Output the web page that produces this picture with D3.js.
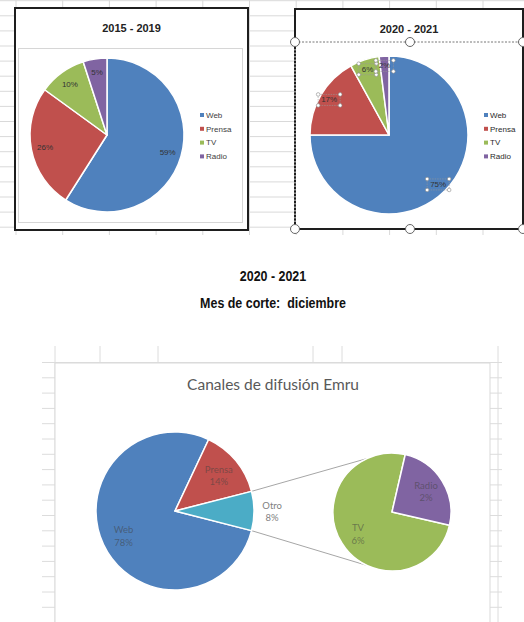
<!DOCTYPE html>
<html>
<head>
<meta charset="utf-8">
<script src="https://cdn.jsdelivr.net/npm/d3@7"></script>
<style>
  body { margin: 0; background: #fff; }
  svg { display: block; }
</style>
</head>
<body>
<svg id="chart" width="524" height="622"></svg>
<script>
// Channel shares (percent)
const categories = ["Web", "Prensa", "TV", "Radio"];
const values2015 = [59, 26, 10, 5];
const values2020 = [75, 17, 6, 2];

// Pie-of-pie: main pie with "Otro" split into the secondary pie
const mainCategories = ["Web", "Prensa", "Otro"];
const mainValues = [78, 14, 8];
const otherCategories = ["TV", "Radio"];
const otherValues = [6, 2];

const titles = ["2015 - 2019", "2020 - 2021"];
const headerLines = ["2020 - 2021", "Mes de corte:  diciembre"];
const mainTitle = "Canales de difusión Emru";

const colors = {
  Web: "#4f81bd", Prensa: "#c0504d", TV: "#9bbb59", Radio: "#8064a2", Otro: "#4bacc6"
};

const svg = d3.select("#chart");
const W = 524, H = 622;
const deg = Math.PI / 180;
const pct = v => `${v}%`;

svg.append("rect").attr("width", W).attr("height", H).attr("fill", "#fff");

// ---------- worksheet grid behind the upper charts ----------
const gridTop = svg.append("g").attr("stroke", "#d9d9d9").attr("stroke-width", 1);
gridTop.selectAll("line.v").data(d3.range(11)).join("line")
  .attr("x1", k => 16 + 46.7 * k).attr("x2", k => 16 + 46.7 * k)
  .attr("y1", 0).attr("y2", 235);
gridTop.selectAll("line.h").data(d3.range(16)).join("line")
  .attr("x1", 0).attr("x2", W)
  .attr("y1", k => 0.7 + 15.1 * k).attr("y2", k => 0.7 + 15.1 * k);

// ---------- worksheet grid behind the lower chart ----------
const gridBot = svg.append("g").attr("stroke", "#dcdcdc").attr("stroke-width", 1);
gridBot.selectAll("line.v").data([55, 100, 158, 313, 342, 498]).join("line")
  .attr("x1", d => d).attr("x2", d => d).attr("y1", 346).attr("y2", H);
gridBot.selectAll("line.h").data(d3.range(18)).join("line")
  .attr("x1", 42).attr("x2", 502)
  .attr("y1", k => 362.5 + 15.3 * k).attr("y2", k => 362.5 + 15.3 * k);

// ---------- small pie chart with legend ----------
function smallChart(opts) {
  const g = svg.append("g");
  // chart area
  g.append("rect").attr("x", opts.frame[0]).attr("y", opts.frame[1])
    .attr("width", opts.frame[2] - opts.frame[0]).attr("height", opts.frame[3] - opts.frame[1])
    .attr("fill", "#fff");
  // plot area
  g.append("rect").attr("x", opts.plot[0]).attr("y", opts.plot[1])
    .attr("width", opts.plot[2] - opts.plot[0]).attr("height", opts.plot[3] - opts.plot[1])
    .attr("fill", "#fff").attr("stroke", opts.plotStroke).attr("stroke-width", 1);

  g.append("text").attr("x", (opts.frame[0] + opts.frame[2]) / 2).attr("y", opts.frame[1] + 24)
    .attr("text-anchor", "middle").attr("font-family", "Liberation Sans, Arial, sans-serif")
    .attr("font-weight", "bold").attr("font-size", 11).attr("fill", "#222")
    .text(opts.title);

  const data = categories.map((c, i) => ({ c, v: opts.values[i] }));
  const pie = d3.pie().sort(null).value(d => d.v);
  const arcs = pie(data);
  const arc = d3.arc().innerRadius(0).outerRadius(opts.r);
  const labelArc = d3.arc().innerRadius(opts.r * opts.labelK).outerRadius(opts.r * opts.labelK);
  const pg = g.append("g").attr("transform", `translate(${opts.cx},${opts.cy})`);
  pg.selectAll("path").data(arcs).join("path")
    .attr("d", arc).attr("fill", d => colors[d.data.c])
    .attr("stroke", "#fff").attr("stroke-width", 1.5).attr("stroke-linejoin", "round");

  const labels = pg.selectAll("text").data(arcs).join("text")
    .attr("transform", d => `translate(${labelArc.centroid(d)})`)
    .attr("text-anchor", "middle").attr("dy", "0.35em")
    .attr("font-family", "Liberation Sans, Arial, sans-serif").attr("font-size", 8)
    .attr("fill", "#333").text(d => pct(d.data.v));

  if (opts.selectedLabels) {
    labels.each(function () {
      const b = this.getBBox();
      const t = d3.select(this).attr("transform");
      const hg = pg.append("g").attr("transform", t);
      const x0 = b.x - 3, y0 = b.y - 1, x1 = b.x + b.width + 3, y1 = b.y + b.height + 1;
      hg.append("rect").attr("x", x0).attr("y", y0).attr("width", x1 - x0).attr("height", y1 - y0)
        .attr("fill", "none").attr("stroke", "#999").attr("stroke-width", 0.6).attr("stroke-dasharray", "1.5,1");
      hg.selectAll("circle").data([[x0, y0], [x1, y0], [x0, y1], [x1, y1]]).join("circle")
        .attr("cx", d => d[0]).attr("cy", d => d[1]).attr("r", 1.8)
        .attr("fill", "#fff").attr("stroke", "#888").attr("stroke-width", 0.6);
    });
  }

  // legend
  const lg = g.append("g").attr("transform", `translate(${opts.legend[0]},${opts.legend[1]})`);
  const items = lg.selectAll("g").data(categories).join("g")
    .attr("transform", (d, i) => `translate(0,${i * 13.8})`);
  items.append("rect").attr("x", 0).attr("y", -2).attr("width", 4).attr("height", 4)
    .attr("fill", d => colors[d]);
  items.append("text").attr("x", 6).attr("dy", "0.35em")
    .attr("font-family", "Liberation Sans, Arial, sans-serif").attr("font-size", 8)
    .attr("fill", opts.legendColor).text(d => d);

  // outer frame
  g.append("rect").attr("x", opts.frame[0]).attr("y", opts.frame[1])
    .attr("width", opts.frame[2] - opts.frame[0]).attr("height", opts.frame[3] - opts.frame[1])
    .attr("fill", "none").attr("stroke", "#1e1e1e").attr("stroke-width", 2);
  return g;
}

smallChart({
  title: titles[0], values: values2015,
  frame: [15, 8, 248, 230], plot: [18.5, 48.5, 242.5, 222.5], plotStroke: "#d6d6d6",
  cx: 107, cy: 135, r: 77, labelK: 0.82, legend: [200, 115], legendColor: "#404040"
});

const c2 = smallChart({
  title: titles[1], values: values2020,
  frame: [295, 9, 523, 229], plot: [295, 42, 523, 229], plotStroke: "none",
  cx: 389, cy: 135, r: 79, labelK: 0.88, legend: [484, 115], legendColor: "#2a2a2a",
  selectedLabels: true
});

// selection marks on the second chart's plot area
c2.append("line").attr("x1", 295).attr("x2", 523).attr("y1", 42).attr("y2", 42)
  .attr("stroke", "#777").attr("stroke-width", 1).attr("stroke-dasharray", "2,1.5");
c2.append("line").attr("x1", 295).attr("x2", 295).attr("y1", 42).attr("y2", 229)
  .attr("stroke", "#fff").attr("stroke-width", 1).attr("stroke-dasharray", "1.5,2");
c2.selectAll("circle.h").data([[295, 42], [410, 42], [523, 42], [295, 229], [410, 229], [523, 229]])
  .join("circle").attr("cx", d => d[0]).attr("cy", d => d[1]).attr("r", 4.5)
  .attr("fill", "#fff").attr("stroke", "#666").attr("stroke-width", 1);

// ---------- header above the lower chart (condensed bold) ----------
const headerX = 273, narrow = 0.83;
svg.selectAll("text.header").data(headerLines).join("text")
  .attr("class", "header")
  .attr("transform", (d, i) => `translate(${headerX},${281 + i * 27}) scale(${narrow},1)`)
  .attr("text-anchor", "middle")
  .style("white-space", "pre")
  .attr("font-family", "Liberation Sans, Arial, sans-serif")
  .attr("font-weight", "bold").attr("font-size", 15).attr("fill", "#111")
  .text(d => d);

// ---------- pie-of-pie chart ----------
const bottom = svg.append("g");
bottom.append("rect").attr("x", 55).attr("y", 363).attr("width", 435).attr("height", H - 363 + 2)
  .attr("fill", "#fff").attr("stroke", "#d9d9d9").attr("stroke-width", 1);
bottom.append("text").attr("x", 273).attr("y", 390).attr("text-anchor", "middle")
  .attr("font-family", "Lato, Liberation Sans, sans-serif").attr("font-size", 15.5)
  .attr("fill", "#595959").text(mainTitle);

const mainC = [175, 511], mainR = 79;
const subC = [392, 512], subR = 59;
const total = d3.sum(mainValues);
const otroIdx = mainCategories.indexOf("Otro");
// rotate so the "Otro" slice is centred on the horizontal, facing the secondary pie
const before = d3.sum(mainValues.slice(0, otroIdx));
const rot = Math.PI / 2 - 2 * Math.PI * (before + mainValues[otroIdx] / 2) / total;

const mainData = mainCategories.map((c, i) => ({ c, v: mainValues[i] }));
const mainArcs = d3.pie().sort(null).value(d => d.v).startAngle(rot).endAngle(rot + 2 * Math.PI)(mainData);
const subData = otherCategories.map((c, i) => ({ c, v: otherValues[i] }));
const subRot = 103 * deg;
const subArcs = d3.pie().sort(null).value(d => d.v).startAngle(subRot).endAngle(subRot + 2 * Math.PI)(subData);

// connector lines from the "Otro" slice to the secondary pie
const otroArc = mainArcs[otroIdx];
const polar = (c, r, a) => [c[0] + r * Math.sin(a), c[1] - r * Math.cos(a)];
const connAngle = 25 * deg;
const conn = [
  [polar(mainC, mainR, otroArc.startAngle), polar(subC, subR, -connAngle)],
  [polar(mainC, mainR, otroArc.endAngle), polar(subC, subR, Math.PI + connAngle)]
];
bottom.selectAll("line.conn").data(conn).join("line")
  .attr("x1", d => d[0][0]).attr("y1", d => d[0][1])
  .attr("x2", d => d[1][0]).attr("y2", d => d[1][1])
  .attr("stroke", "#a6a6a6").attr("stroke-width", 1);

function drawPie(arcs, c, r, labelK) {
  const g = bottom.append("g").attr("transform", `translate(${c})`);
  const arc = d3.arc().innerRadius(0).outerRadius(r);
  g.selectAll("path").data(arcs).join("path")
    .attr("d", arc).attr("fill", d => colors[d.data.c])
    .attr("stroke", "#fff").attr("stroke-width", 1.5).attr("stroke-linejoin", "round");
  const t = g.selectAll("text").data(arcs).join("text")
    .attr("transform", d => {
      const k = d.data.c === "Otro" ? 1.23 : labelK;
      const la = d3.arc().innerRadius(r * k).outerRadius(r * k);
      return `translate(${la.centroid(d)})`;
    })
    .attr("text-anchor", "middle")
    .attr("font-family", "Lato, Liberation Sans, sans-serif").attr("font-size", 9.5)
    .attr("fill", d => d.data.c === "Otro" ? "#7f7f7f" : "#404040")
    .attr("fill-opacity", d => d.data.c === "Otro" ? 1 : 0.55);
  t.append("tspan").attr("x", 0).attr("dy", "-0.2em").text(d => d.data.c);
  t.append("tspan").attr("x", 0).attr("dy", "1.3em").text(d => pct(d.data.v));
}
drawPie(mainArcs, mainC, mainR, 0.72);
drawPie(subArcs, subC, subR, 0.68);
</script>
</body>
</html>
